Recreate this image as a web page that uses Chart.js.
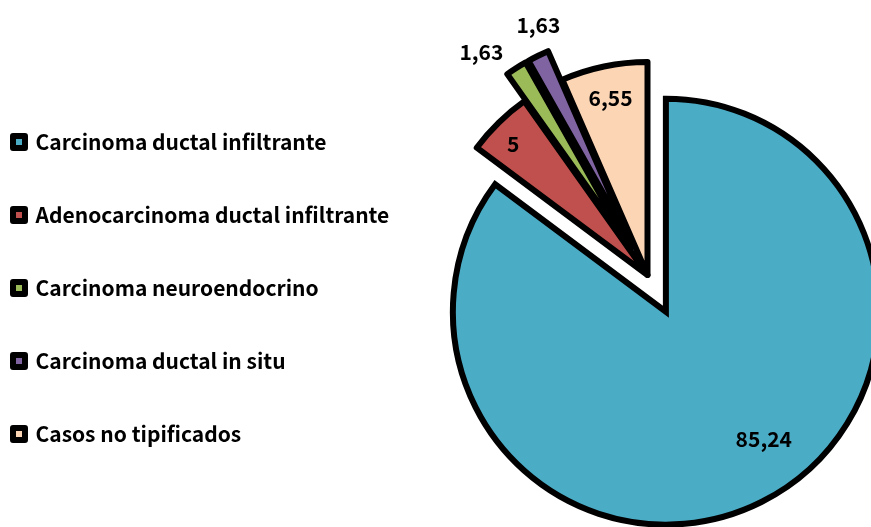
<!DOCTYPE html>
<html>
<head>
<meta charset="utf-8">
<script src="https://cdn.jsdelivr.net/npm/chart.js@4/dist/chart.umd.min.js"></script>
<style>
  html, body { margin: 0; padding: 0; background: #fff; overflow: hidden; }
  #wrap { position: relative; width: 871px; height: 527px; overflow: hidden; }
  #pie { position: absolute; left: -39px; top: 0; }
</style>
</head>
<body>
<div id="wrap"><canvas id="pie" width="937" height="527"></canvas></div>
<script>
// ── Data ────────────────────────────────────────────────────────────────────

const categories = [
  'Carcinoma ductal infiltrante',
  'Adenocarcinoma ductal infiltrante',
  'Carcinoma neuroendocrino',
  'Carcinoma ductal in situ',
  'Casos no tipificados'
];
const values = [85.24, 5, 1.63, 1.63, 6.55];
const colors = ['#4BACC6', '#C0504D', '#9BBB59', '#8064A2', '#FCD5B5'];

// how far each slice is pulled out of the pie (px)
const explode = [41, 0, 32, 32, 0];
// label placement: fraction of radius, angular nudge in degrees
const labelRadius = [0.756, 0.88, 1.155, 1.13, 0.85];
const labelShift = [-10.8, -1.5, -4.9, 3.3, 0];

const FONT = '"Noto Sans CJK JP", "Noto Sans", sans-serif';

function formatValue(v) {
  return String(v).replace('.', ',');
}

// ── Plugins ─────────────────────────────────────────────────────────────────

const explodePlugin = {
  id: 'explode',
  afterDatasetsUpdate(chart) {
    const meta = chart.getDatasetMeta(0);
    meta.data.forEach((arc, i) => {
      const d = explode[i] || 0;
      if (!d) return;
      const mid = (arc.startAngle + arc.endAngle) / 2;
      arc.x += Math.cos(mid) * d;
      arc.y += Math.sin(mid) * d;
    });
  }
};

const valueLabels = {
  id: 'valueLabels',
  afterDatasetsDraw(chart) {
    const { ctx } = chart;
    const meta = chart.getDatasetMeta(0);
    ctx.save();
    ctx.font = 'bold 21px ' + FONT;
    ctx.fillStyle = '#000';
    ctx.textAlign = 'center';
    ctx.textBaseline = 'middle';
    meta.data.forEach((arc, i) => {
      const mid = (arc.startAngle + arc.endAngle) / 2 + labelShift[i] * Math.PI / 180;
      const r = arc.outerRadius * labelRadius[i];
      ctx.fillText(formatValue(values[i]), arc.x + Math.cos(mid) * r, arc.y + Math.sin(mid) * r);
    });
    ctx.restore();
  }
};

// ── Chart ───────────────────────────────────────────────────────────────────

Chart.defaults.font.family = FONT;

new Chart(document.getElementById('pie'), {
  type: 'pie',
  data: {
    labels: categories,
    datasets: [{
      data: values,
      backgroundColor: colors,
      borderColor: '#000',
      borderWidth: 6,
      // thin wedges get round joins so their tips don't spike past the centre
      borderJoinStyle: ctx => (ctx.dataIndex === 0 ? 'miter' : 'round'),
      radius: 213,
      clip: false
    }]
  },
  options: {
    responsive: false,
    animation: false,
    events: [],
    layout: { padding: { top: 65, bottom: 16, left: 0, right: 0 } },
    plugins: {
      tooltip: { enabled: false },
      // empty spacer under the pie so the legend column can run lower than the plot
      title: {
        display: true,
        position: 'bottom',
        text: ' ',
        padding: 0,
        font: { size: 26, lineHeight: 1 }
      },
      legend: {
        position: 'left',
        align: 'center',
        maxWidth: 436,
        labels: {
          boxWidth: 12,
          boxHeight: 12,
          padding: 52,
          color: '#000',
          font: { size: 21, weight: 'bold' },
          generateLabels(chart) {
            const items = Chart.overrides.doughnut.plugins.legend.labels.generateLabels(chart);
            return items.map(it => ({ ...it, strokeStyle: '#000', lineWidth: 6, lineJoin: 'round' }));
          }
        }
      }
    }
  },
  plugins: [explodePlugin, valueLabels]
});
</script>
</body>
</html>
